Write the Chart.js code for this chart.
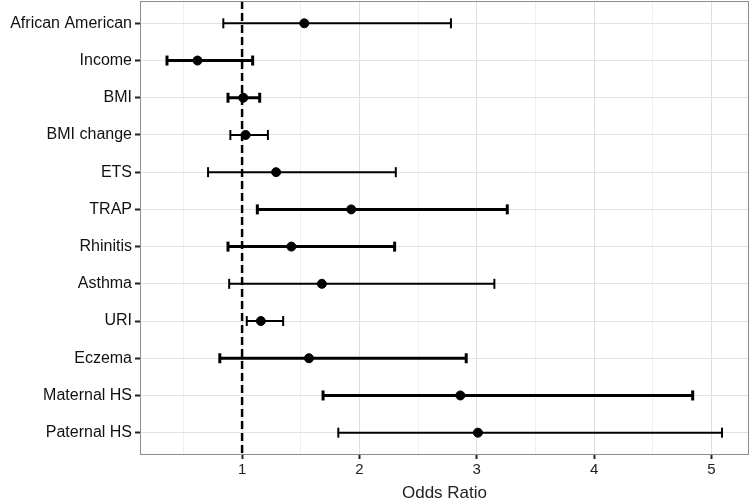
<!DOCTYPE html>
<html>
<head>
<meta charset="utf-8">
<script src="https://cdn.jsdelivr.net/npm/chart.js@4/dist/chart.umd.min.js"></script>
<style>
  body { margin: 0; background: #fff; }
  #wrap { width: 750px; height: 504px; }
</style>
</head>
<body>
<div id="wrap"><canvas id="myChart"></canvas></div>
<script>
const labels = ["African American", "Income", "BMI", "BMI change", "ETS", "TRAP",
  "Rhinitis", "Asthma", "URI", "Eczema", "Maternal HS", "Paternal HS"];
const oddsRatio = [1.53, 0.62, 1.01, 1.03, 1.29, 1.93, 1.42, 1.68, 1.16, 1.57, 2.86, 3.01];
const lower = [0.84, 0.36, 0.88, 0.90, 0.71, 1.13, 0.88, 0.89, 1.04, 0.81, 1.69, 1.82];
const upper = [2.78, 1.09, 1.15, 1.22, 2.31, 3.26, 2.30, 3.15, 1.35, 2.91, 4.84, 5.09];
const lineWidths = [2, 3, 3, 2, 2, 3, 3, 2, 2, 3, 3, 2];
const xTicks = [0.5, 1, 1.5, 2, 2.5, 3, 3.5, 4, 4.5, 5];

/*one line dataset per confidence interval, with vertical caps*/
let datasets = [];
for (let i = 0; i < labels.length; i++) {
  datasets.push({
    type: "line",
    data: [{ x: lower[i], y: i }, { x: upper[i], y: i }],
    borderColor: "#000",
    borderWidth: lineWidths[i],
    pointStyle: "line",
    pointRotation: 90,
    pointRadius: 5,
    pointBorderWidth: lineWidths[i],
    pointBorderColor: "#000",
    pointHoverRadius: 5,
  });
}

/*odds ratio points*/
datasets.push({
  type: "scatter",
  data: oddsRatio.map((v, i) => ({ x: v, y: i })),
  backgroundColor: "#000",
  borderColor: "#000",
  pointRadius: 4.5,
});

/*reference line at 1*/
datasets.push({
  type: "line",
  data: [{ x: 1, y: -0.6 }, { x: 1, y: 11.6 }],
  borderColor: "#000",
  borderWidth: 2.5,
  borderDash: [8, 4],
  pointRadius: 0,
});

const panelBorder = {
  id: "panelBorder",
  afterDatasetsDraw(chart) {
    const a = chart.chartArea;
    const ctx = chart.ctx;
    ctx.save();
    ctx.strokeStyle = "#8c8c8c";
    ctx.lineWidth = 1;
    ctx.strokeRect(a.left + 0.5, a.top + 0.5, a.right - a.left - 1, a.bottom - a.top - 1);
    ctx.restore();
  },
};

let ctx = document.getElementById("myChart").getContext("2d");
let myChart = new Chart(ctx, {
  type: "scatter",
  data: { datasets: datasets },
  plugins: [panelBorder],
  options: {
    responsive: true,
    maintainAspectRatio: false,
    animation: false,
    layout: { autoPadding: false, padding: { top: 1, right: 1, left: 0, bottom: 0 } },
    plugins: { legend: { display: false }, tooltip: { enabled: false } },
    scales: {
      x: {
        type: "linear",
        min: 0.13,
        max: 5.32,
        afterBuildTicks: (scale) => {
          scale.ticks = xTicks.map((v) => ({ value: v }));
        },
        afterFit: (scale) => {
          scale.height = 49;
          scale.paddingLeft = 0;
          scale.paddingRight = 0;
        },
        border: { display: false },
        grid: {
          color: (c) => (Number.isInteger(c.tick.value) ? "#dedede" : "#f0f0f0"),
          tickColor: (c) => (Number.isInteger(c.tick.value) ? "#222" : "rgba(0,0,0,0)"),
          tickLength: 4,
          tickWidth: 2,
          lineWidth: 1,
        },
        ticks: {
          color: "#222",
          font: { family: "Liberation Sans", size: 15 },
          padding: 2,
          callback: (v) => (Number.isInteger(v) ? v : ""),
        },
        title: {
          display: true,
          text: "Odds Ratio",
          color: "#222",
          font: { family: "Liberation Sans", size: 17 },
          padding: { top: 5, bottom: 0 },
        },
      },
      y: {
        type: "linear",
        reverse: true,
        min: -0.6,
        max: 11.6,
        afterBuildTicks: (scale) => {
          scale.ticks = labels.map((l, i) => ({ value: i }));
        },
        afterFit: (scale) => {
          scale.width = 140;
          scale.paddingTop = 0;
          scale.paddingBottom = 0;
        },
        border: { display: false },
        grid: {
          color: "#e3e3e3",
          tickColor: "#222",
          tickLength: 5,
          tickWidth: 2,
          lineWidth: 1,
        },
        ticks: {
          color: "#111",
          font: { family: "Liberation Sans", size: 16 },
          padding: 3,
          callback: (v) => labels[v],
        },
      },
    },
  },
});
</script>
</body>
</html>
